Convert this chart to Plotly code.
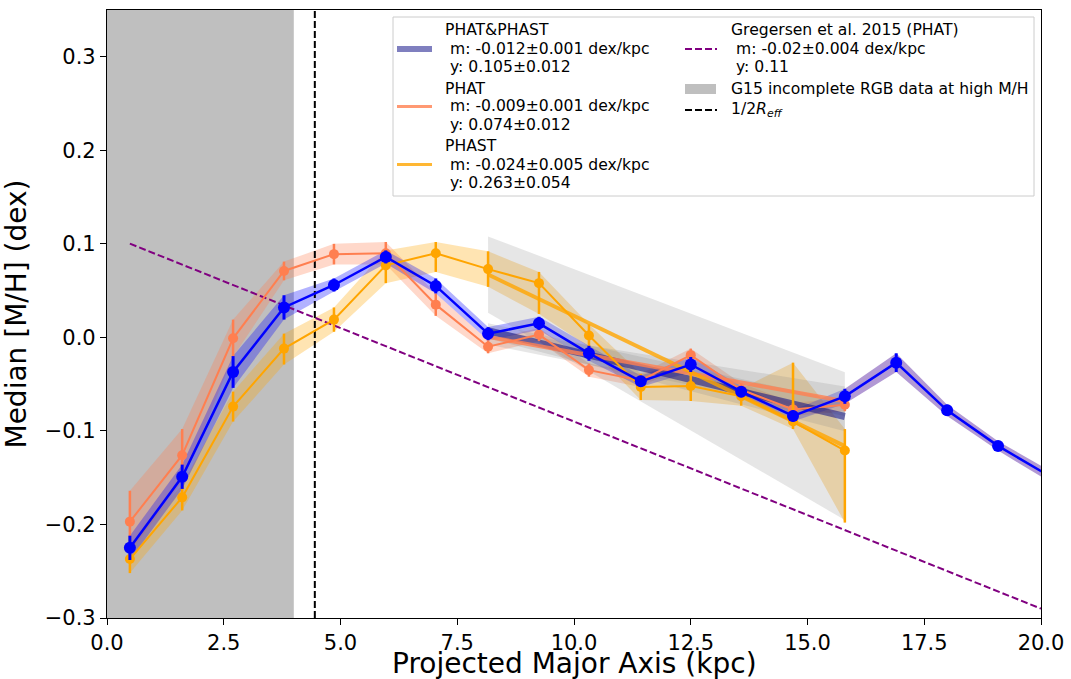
import plotly.graph_objects as go

# ---------------- data ----------------
radius_kpc = [0.49, 1.61, 2.70, 3.79, 4.86, 5.97, 7.04, 8.16, 9.25, 10.32,
              11.43, 12.50, 13.58, 14.69, 15.80, 16.90, 17.99, 19.08, 20.17]

both_median = [-0.225, -0.149, -0.037, 0.032, 0.056, 0.086, 0.055, 0.004, 0.015, -0.017,
               -0.047, -0.029, -0.058, -0.084, -0.063, -0.027, -0.078, -0.116, -0.148]
both_err = [0.013, 0.013, 0.017, 0.013, 0.007, 0.007, 0.008, 0.007, 0.007, 0.008,
            0.006, 0.008, 0.006, 0.006, 0.008, 0.010, 0.006, 0.005, 0.006]

phat_median = [-0.197, -0.126, -0.001, 0.071, 0.089, 0.090, 0.035, -0.010, 0.003, -0.035,
               -0.046, -0.019, -0.056, -0.077, -0.072]
phat_err = [0.033, 0.028, 0.020, 0.010, 0.011, 0.012, 0.012, 0.007, 0.007, 0.007,
            0.007, 0.007, 0.007, 0.007, 0.007]

phast_median = [-0.237, -0.171, -0.074, -0.012, 0.019, 0.077, 0.090, 0.073, 0.058, 0.002,
                -0.053, -0.052, -0.063, -0.090, -0.121]
phast_err_up = [0.015, 0.014, 0.016, 0.016, 0.013, 0.016, 0.012, 0.019, 0.012, 0.012,
                0.014, 0.016, 0.008, 0.063, 0.023]
phast_err_down = [0.015, 0.014, 0.016, 0.017, 0.013, 0.019, 0.020, 0.019, 0.033, 0.012,
                  0.014, 0.016, 0.010, 0.008, 0.077]

fit_labels = ["PHAT&PHAST", "PHAT", "PHAST"]
fit_slope = [-0.012, -0.009, -0.024]
fit_slope_err = [0.001, 0.001, 0.005]
fit_intercept = [0.105, 0.074, 0.263]
fit_intercept_err = [0.012, 0.012, 0.054]
fit_range = [8.16, 15.80]

g15_label = "Gregersen et al. 2015 (PHAT)"
g15_slope = -0.02
g15_slope_err = 0.004
g15_intercept = 0.11
g15_incomplete = [0.0, 4.0]
half_reff = 4.45

x_title = "Projected Major Axis (kpc)"
y_title = "Median [M/H] (dex)"
x_range = [0.0, 20.0]
y_range = [-0.3, 0.35]
x_ticks = [0.0, 2.5, 5.0, 7.5, 10.0, 12.5, 15.0, 17.5, 20.0]
y_ticks = [-0.3, -0.2, -0.1, 0.0, 0.1, 0.2, 0.3]

# ---------------- styles ----------------
C_BOTH = "blue"
C_PHAT = "coral"
C_PHAST = "orange"
FIT_COLORS = ["rgba(0,0,128,0.5)", "rgba(255,127,80,0.8)", "rgba(255,165,0,0.8)"]
FIT_WIDTHS = [7, 4, 4]
FONT = "DejaVu Sans"
LEG_SIZE = 15.6

fig = go.Figure()


def band(xs, center, up, down, color):
    hi = [c + u for c, u in zip(center, up)]
    lo = [c - d for c, d in zip(center, down)]
    fig.add_trace(go.Scatter(x=list(xs) + list(xs)[::-1], y=hi + lo[::-1],
                             fill="toself", fillcolor=color, mode="lines",
                             line=dict(width=0), hoverinfo="skip", showlegend=False))


n = len(phat_median)
band(radius_kpc[:n], phat_median, phat_err, phat_err, "rgba(255,127,80,0.3)")
band(radius_kpc[:n], phast_median, phast_err_up, phast_err_down, "rgba(255,165,0,0.3)")
band(radius_kpc[:n], both_median[:n], both_err[:n], both_err[:n], "rgba(0,0,255,0.3)")
band(radius_kpc[n - 1:], both_median[n - 1:], both_err[n - 1:], both_err[n - 1:],
     "rgba(102,51,170,0.5)")

# fit uncertainty wedges and fit lines
for m, dm, b in zip(fit_slope, fit_slope_err, fit_intercept):
    hi = [(m + dm) * x + b for x in fit_range]
    lo = [(m - dm) * x + b for x in fit_range]
    fig.add_trace(go.Scatter(x=fit_range + fit_range[::-1], y=hi + lo[::-1],
                             fill="toself", fillcolor="rgba(128,128,128,0.2)",
                             mode="lines", line=dict(width=0), hoverinfo="skip",
                             showlegend=False))
for m, b, col, w in zip(fit_slope, fit_intercept, FIT_COLORS, FIT_WIDTHS):
    fig.add_trace(go.Scatter(x=fit_range, y=[m * x + b for x in fit_range], mode="lines",
                             line=dict(color=col, width=w), showlegend=False))

# Gregersen 2015 gradient
g_x = [radius_kpc[0], x_range[1]]
fig.add_trace(go.Scatter(x=g_x, y=[g15_slope * x + g15_intercept for x in g_x], mode="lines",
                         line=dict(color="purple", width=2, dash="7px,3px"), showlegend=False))
# half effective radius
fig.add_trace(go.Scatter(x=[half_reff, half_reff], y=y_range, mode="lines",
                         line=dict(color="black", width=2, dash="7px,3px"), showlegend=False))

# data
fig.add_trace(go.Scatter(x=radius_kpc[:n], y=phat_median, mode="lines+markers",
                         line=dict(color=C_PHAT, width=2), marker=dict(color=C_PHAT, size=10),
                         error_y=dict(type="data", array=phat_err, color=C_PHAT, thickness=2.5, width=0),
                         showlegend=False))
fig.add_trace(go.Scatter(x=radius_kpc[:n], y=phast_median, mode="lines+markers",
                         line=dict(color=C_PHAST, width=2), marker=dict(color=C_PHAST, size=10),
                         error_y=dict(type="data", symmetric=False, array=phast_err_up,
                                      arrayminus=phast_err_down, color=C_PHAST, thickness=2.5, width=0),
                         showlegend=False))
fig.add_trace(go.Scatter(x=radius_kpc, y=both_median, mode="lines+markers",
                         line=dict(color=C_BOTH, width=2.5), marker=dict(color=C_BOTH, size=12),
                         error_y=dict(type="data", array=both_err, color=C_BOTH, thickness=3, width=0),
                         showlegend=False))

# incomplete region
fig.add_shape(type="rect", xref="x", yref="paper", x0=g15_incomplete[0], x1=g15_incomplete[1],
              y0=0, y1=1, fillcolor="rgba(128,128,128,0.5)", line=dict(width=0), layer="below")

# ---------------- legend (drawn manually, two columns) ----------------
W, H = 1071, 679
PL, PR, PT, PB = 107, 1041, 10, 618


def px(xp):
    return (xp - PL) / (PR - PL)


def py(yp):
    return (PB - yp) / (PB - PT)


fig.add_shape(type="rect", xref="paper", yref="paper", x0=px(393), x1=px(1034),
              y0=py(196), y1=py(17), fillcolor="rgba(255,255,255,0.8)",
              line=dict(color="#cccccc", width=1), layer="above")

col1_rows = [[30.5, 49, 67], [88.5, 106.5, 125], [146, 164.5, 183]]
for i, (lab, m, dm, b, db) in enumerate(zip(fit_labels, fit_slope, fit_slope_err,
                                             fit_intercept, fit_intercept_err)):
    lines = [lab, f"m: {m:.3f}±{dm:.3f} dex/kpc", f"y: {b:.3f}±{db:.3f}"]
    rows = col1_rows[i]
    for j, (t, yy) in enumerate(zip(lines, rows)):
        fig.add_annotation(xref="paper", yref="paper", x=px(443 if j == 0 else 448), y=py(yy),
                           text=t, showarrow=False, xanchor="left", yanchor="middle",
                           font=dict(family=FONT, size=LEG_SIZE, color="black"))
    fig.add_shape(type="line", xref="paper", yref="paper", x0=px(397), x1=px(432),
                  y0=py(rows[1]), y1=py(rows[1]),
                  line=dict(color=FIT_COLORS[i], width=FIT_WIDTHS[i] - 1), layer="above")

g_lines = [g15_label, f"m: {g15_slope:g}±{g15_slope_err:g} dex/kpc", f"y: {g15_intercept:g}"]
for j, (t, yy) in enumerate(zip(g_lines, [30.5, 49, 67])):
    fig.add_annotation(xref="paper", yref="paper", x=px(729 if j == 0 else 734), y=py(yy),
                       text=t, showarrow=False, xanchor="left", yanchor="middle",
                       font=dict(family=FONT, size=LEG_SIZE, color="black"))
fig.add_shape(type="line", xref="paper", yref="paper", x0=px(685), x1=px(717),
              y0=py(49), y1=py(49), line=dict(color="purple", width=2, dash="7px,3px"), layer="above")

fig.add_annotation(xref="paper", yref="paper", x=px(729), y=py(89),
                   text="G15 incomplete RGB data at high M/H", showarrow=False,
                   xanchor="left", yanchor="middle",
                   font=dict(family=FONT, size=LEG_SIZE, color="black"))
fig.add_shape(type="rect", xref="paper", yref="paper", x0=px(685), x1=px(716),
              y0=py(94), y1=py(84), fillcolor="rgba(128,128,128,0.5)", line=dict(width=0),
              layer="above")

fig.add_annotation(xref="paper", yref="paper", x=px(729), y=py(110),
                   text="1/2<i>R</i><sub><i>eff</i></sub>", showarrow=False,
                   xanchor="left", yanchor="middle",
                   font=dict(family=FONT, size=LEG_SIZE, color="black"))
fig.add_shape(type="line", xref="paper", yref="paper", x0=px(685), x1=px(717),
              y0=py(110), y1=py(110), line=dict(color="black", width=2, dash="7px,3px"),
              layer="above")

# x-axis title placed at the bottom edge of the figure
fig.add_annotation(xref="paper", yref="paper", x=0.5, y=py(H), yshift=-3,
                   text=x_title, showarrow=False, xanchor="center", yanchor="bottom",
                   font=dict(family=FONT, size=28, color="black"))

# ---------------- layout ----------------
axis_common = dict(showline=True, linecolor="black", linewidth=1.2, mirror=True,
                   ticks="outside", ticklen=6, tickwidth=1.2, tickcolor="black",
                   showgrid=False, zeroline=False, automargin=False,
                   tickfont=dict(family=FONT, size=21, color="black"))

fig.update_layout(
    width=W, height=H,
    margin=dict(l=PL, r=W - PR, t=PT, b=H - PB, autoexpand=False),
    plot_bgcolor="white", paper_bgcolor="white",
    showlegend=False,
    xaxis=dict(range=x_range, tickvals=x_ticks, tickformat=".1f", **axis_common),
    yaxis=dict(range=y_range, tickvals=y_ticks, tickformat=".1f",
               title=dict(text=y_title, font=dict(family=FONT, size=28, color="black")),
               **axis_common),
)

fig.write_html("out.html")
